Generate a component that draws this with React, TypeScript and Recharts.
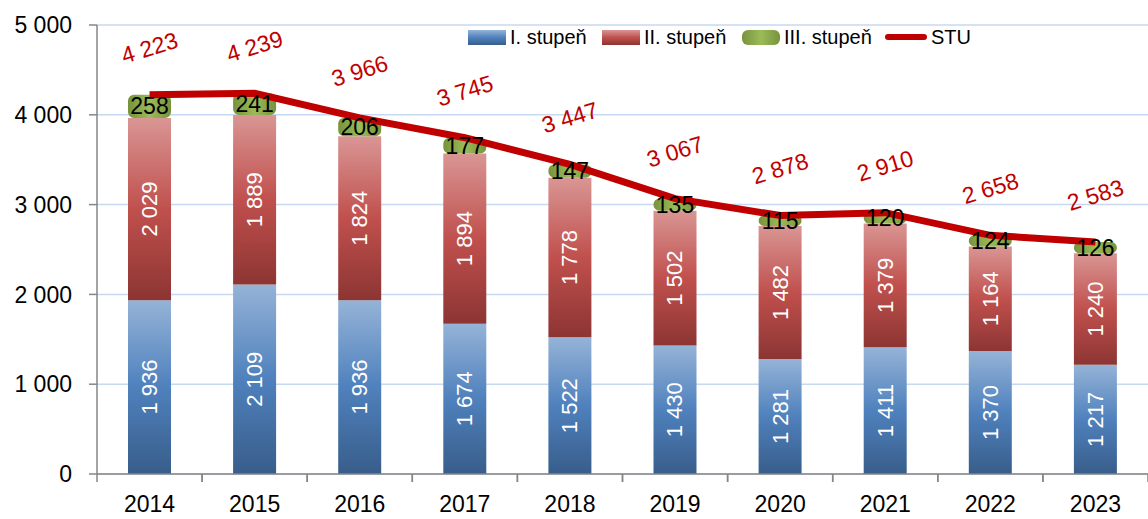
import React from 'react';
import { ComposedChart, Bar, Line, XAxis, YAxis, CartesianGrid, LabelList } from 'recharts';

const years = ['2014', '2015', '2016', '2017', '2018', '2019', '2020', '2021', '2022', '2023'];
const firstLevel = [1936, 2109, 1936, 1674, 1522, 1430, 1281, 1411, 1370, 1217];
const secondLevel = [2029, 1889, 1824, 1894, 1778, 1502, 1482, 1379, 1164, 1240];
const thirdLevel = [258, 241, 206, 177, 147, 135, 115, 120, 124, 126];
const stuTotal = [4223, 4239, 3966, 3745, 3447, 3067, 2878, 2910, 2658, 2583];
const yTicks = [0, 1000, 2000, 3000, 4000, 5000];

const W = 1148;
const H = 519;
const AXIS_W = 97;
const HALF_BAND = (W - AXIS_W) / years.length / 2;
const FONT = '"Liberation Sans", Arial, sans-serif';

const data = years.map((year, i) => ({
  year,
  first: firstLevel[i],
  second: secondLevel[i],
  third: thirdLevel[i],
  stu: stuTotal[i],
}));

const fmt = (v: number) => String(v).replace(/\B(?=(\d{3})+(?!\d))/g, ' ');

const XTick = ({ x, y, payload }: any) => (
  <g>
    <line x1={x - HALF_BAND} x2={x - HALF_BAND} y1={y} y2={y + 8} stroke="#868686" strokeWidth={1.5} />
    <line x1={x + HALF_BAND} x2={x + HALF_BAND} y1={y} y2={y + 8} stroke="#868686" strokeWidth={1.5} />
    <text x={x} y={y + 38} textAnchor="middle" fontSize={23} fill="#000">
      {payload.value}
    </text>
  </g>
);

const VerticalLabel = ({ x, y, width, height, value }: any) => {
  const cx = x + width / 2;
  const cy = y + height / 2;
  return (
    <text x={cx} y={cy} fill="#fff" fontSize={22} textAnchor="middle" dominantBaseline="central"
      transform={`rotate(-90, ${cx}, ${cy})`}>
      {fmt(value)}
    </text>
  );
};

const ThirdLabel = ({ x, y, width, height, value }: any) => (
  <text x={x + width / 2} y={y + height / 2} fill="#000" fontSize={23} textAnchor="middle" dominantBaseline="central">
    {value}
  </text>
);

const StuLabel = ({ x, y, value }: any) => {
  const ly = y - 47;
  return (
    <text x={x} y={ly} fill="#c00000" fontSize={23} textAnchor="middle" dominantBaseline="central"
      transform={`rotate(-17, ${x}, ${ly})`}>
      {fmt(value)}
    </text>
  );
};

const Swatch = ({ kind }: { kind: string }) => {
  if (kind === 'line') {
    return <div style={{ width: 42, height: 6, borderRadius: 3, background: '#c00000' }} />;
  }
  const bg =
    kind === 'blue'
      ? 'linear-gradient(#95b3d7, #4f81bd, #385d8a)'
      : kind === 'red'
      ? 'linear-gradient(#d99694, #c0504d, #8c3533)'
      : 'linear-gradient(90deg, #77933c, #9bbb59, #77933c)';
  return <div style={{ width: 38, height: 15, borderRadius: kind === 'green' ? 6 : 0, background: bg }} />;
};

const legendItems = [
  { name: 'I. stupeň', kind: 'blue', left: 468 },
  { name: 'II. stupeň', kind: 'red', left: 602 },
  { name: 'III. stupeň', kind: 'green', left: 742 },
  { name: 'STU', kind: 'line', left: 885 },
];

export default function App() {
  return (
    <div style={{ position: 'absolute', left: 0, top: 0, width: W, height: H, fontFamily: FONT, background: '#fff' }}>
      <ComposedChart width={W} height={H} data={data} margin={{ top: 25, right: 0, left: 0, bottom: 0 }} barSize={43}>
        <defs>
          <linearGradient id="gBlue" x1="0" y1="0" x2="0" y2="1">
            <stop offset="0%" stopColor="#95b3d7" />
            <stop offset="50%" stopColor="#4f81bd" />
            <stop offset="100%" stopColor="#385d8a" />
          </linearGradient>
          <linearGradient id="gRed" x1="0" y1="0" x2="0" y2="1">
            <stop offset="0%" stopColor="#d99694" />
            <stop offset="50%" stopColor="#c0504d" />
            <stop offset="100%" stopColor="#8c3533" />
          </linearGradient>
          <linearGradient id="gGreen" x1="0" y1="0" x2="1" y2="0">
            <stop offset="0%" stopColor="#77933c" />
            <stop offset="50%" stopColor="#9bbb59" />
            <stop offset="100%" stopColor="#77933c" />
          </linearGradient>
        </defs>
        <CartesianGrid vertical={false} stroke="#c6d9f0" strokeWidth={1.5} />
        <XAxis dataKey="year" height={45} tickLine={false} tickSize={0} tickMargin={0} interval={0}
          axisLine={{ stroke: '#868686', strokeWidth: 1.5 }} tick={<XTick />} />
        <YAxis width={AXIS_W} domain={[0, 5000]} ticks={yTicks} interval={0} tickFormatter={fmt}
          tickSize={8} tickMargin={17} axisLine={{ stroke: '#868686', strokeWidth: 1.5 }}
          tickLine={{ stroke: '#868686', strokeWidth: 1.5 }} tick={{ fontSize: 23, fill: '#000' }} />
        <Bar dataKey="first" name="I. stupeň" stackId="a" fill="url(#gBlue)" isAnimationActive={false}>
          <LabelList dataKey="first" content={<VerticalLabel />} />
        </Bar>
        <Bar dataKey="second" name="II. stupeň" stackId="a" fill="url(#gRed)" isAnimationActive={false}>
          <LabelList dataKey="second" content={<VerticalLabel />} />
        </Bar>
        <Bar dataKey="third" name="III. stupeň" stackId="a" fill="url(#gGreen)" radius={6} isAnimationActive={false}>
          <LabelList dataKey="third" content={<ThirdLabel />} />
        </Bar>
        <Line dataKey="stu" name="STU" stroke="#c00000" strokeWidth={7} dot={false} isAnimationActive={false}>
          <LabelList dataKey="stu" content={<StuLabel />} />
        </Line>
      </ComposedChart>
      {legendItems.map((it) => (
        <div key={it.name} style={{ position: 'absolute', top: 26, left: it.left, height: 22, display: 'flex', alignItems: 'center', gap: 4, fontSize: 20, color: '#000', whiteSpace: 'nowrap' }}>
          <Swatch kind={it.kind} />
          <span>{it.name}</span>
        </div>
      ))}
    </div>
  );
}
